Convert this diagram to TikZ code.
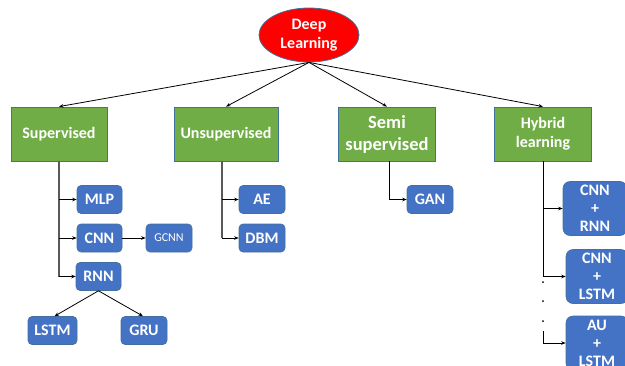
\documentclass[tikz,border=0pt]{standalone}
\usepackage{fontspec}
\setmainfont{Carlito}
\usetikzlibrary{arrows.meta,shapes.geometric}

\definecolor{catgreen}{HTML}{70AD47}
\definecolor{modblue}{HTML}{4472C4}
\definecolor{outline}{HTML}{41719C}
\definecolor{trunkgray}{HTML}{595959}

\begin{document}
\begin{tikzpicture}[x=1pt,y=-1pt,
  root/.style={ellipse, fill=red, draw=outline, line width=0.8pt,
    minimum width=100pt, minimum height=54pt, inner sep=0pt,
    text=white, align=center, font=\fontsize{16}{19}\selectfont\bfseries},
  catbox/.style={rectangle, fill=catgreen, draw=outline, line width=0.8pt,
    minimum width=96pt, minimum height=54pt, inner sep=0pt,
    text=white, align=center, font=\fontsize{16}{19}\selectfont\bfseries},
  modbox/.style={rectangle, rounded corners=4pt, fill=modblue, draw=outline,
    line width=0.6pt, minimum width=46pt, minimum height=28pt, inner sep=0pt,
    text=white, align=center, font=\fontsize{16}{18}\selectfont\bfseries},
  hybbox/.style={modbox, rounded corners=7pt, minimum width=64pt, minimum height=54pt},
  tip/.style={-{Stealth[length=4.5pt,width=3.5pt]}},
  toparrow/.style={tip, black, line width=0.8pt},
  branch/.style={tip, black, line width=0.8pt},
  trunk/.style={trunkgray, line width=1.6pt},
  thintrunk/.style={black, line width=0.9pt}
]
\useasboundingbox (0,0) rectangle (625,365);
\clip (0,0) rectangle (625,365);

% root
\node[root] (dl) at (309,35) {Deep\\Learning};

% categories
\node[catbox] (sup) at (59,134) {Supervised};
\node[catbox, minimum width=104pt] (uns) at (226,134) {Unsupervised};
\node[catbox, minimum width=97pt, font=\fontsize{18.5}{22}\selectfont\bfseries] (semi) at (387,134) {Semi\\supervised};
\node[catbox, minimum width=97pt] (hyb) at (543,134) {Hybrid\\learning};

\foreach \c in {sup,uns,semi,hyb}
  \draw[toparrow] (dl.south) -- (\c.north);

% supervised models
\node[modbox, minimum width=45pt] (mlp) at (99.5,199.5) {MLP};
\node[modbox, minimum width=45pt] (cnn) at (99.5,238) {CNN};
\node[modbox, font=\fontsize{12}{14}\selectfont] (gcnn) at (169,238) {GCNN};
\node[modbox, minimum width=45pt] (rnn) at (98.5,276.5) {RNN};
\node[modbox, minimum width=49pt] (lstm) at (52.5,330.5) {LSTM};
\node[modbox] (gru) at (144,330.5) {GRU};

\coordinate (supt) at (sup.south);
\draw[trunk] (supt) -- (supt |- rnn.west);
\draw[branch] (supt |- mlp.west) -- (mlp.west);
\draw[branch] (supt |- cnn.west) -- (cnn.west);
\draw[branch] (supt |- rnn.west) -- (rnn.west);
\draw[branch] (cnn.east) -- (gcnn.west);
\draw[branch] (rnn.south) -- ([xshift=2pt]lstm.north);
\draw[branch] (rnn.south) -- ([xshift=-1pt]gru.north);

% unsupervised models
\node[modbox] (ae) at (262,199.5) {AE};
\node[modbox] (dbm) at (262,238) {DBM};

\coordinate (unst) at ([xshift=-4pt]uns.south);
\draw[trunk] (unst) -- (unst |- dbm.west);
\draw[branch] (unst |- ae.west) -- (ae.west);
\draw[branch] (unst |- dbm.west) -- (dbm.west);

% semi-supervised model
\node[modbox] (gan) at (430,199.5) {GAN};
\coordinate (semit) at ([xshift=2pt]semi.south);
\draw[thintrunk] (semit) -- (semit |- gan.west);
\draw[branch] (semit |- gan.west) -- (gan.west);

% hybrid models
\node[hybbox] (cr) at (595,208.5) {CNN\\+\\RNN};
\node[hybbox, minimum width=62pt] (cl) at (597,276.5) {CNN\\+\\LSTM};
\node[hybbox, minimum width=62pt] (al) at (597,343) {AU\\+\\LSTM};

\coordinate (hybt) at (hyb.south);
\draw[thintrunk] (hybt) -- (hybt |- cl.west);
\draw[branch] (hybt |- cr.west) -- (cr.west);
\draw[branch] (hybt |- cl.west) -- (cl.west);
\foreach \y in {282,301,321}
  \fill[black] (hybt |- 0,\y) circle[radius=1pt];
\coordinate (hybrest) at (hybt |- 0,331);
\draw[thintrunk] (hybrest) -- (hybrest |- al.west);
\draw[branch] (hybrest |- al.west) -- (al.west);
\end{tikzpicture}
\end{document}
